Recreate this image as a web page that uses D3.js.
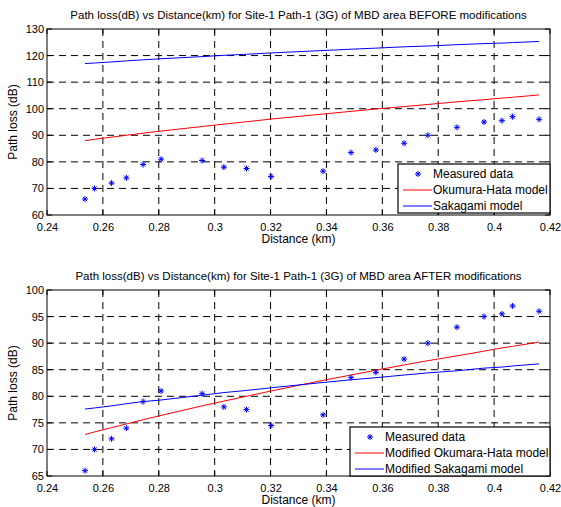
<!DOCTYPE html>
<html lang="en">
<head>
<meta charset="UTF-8">
<title>Path loss vs Distance</title>
<script src="https://d3js.org/d3.v7.min.js"></script>
<style>
    body { margin: 0; background: #fff; }
    svg { display: block; font-family: "Liberation Sans", Arial, Helvetica, sans-serif; }
    .grid { stroke: #000; stroke-width: 1px; stroke-dasharray: 7,5; }
    .tick-label { font-size: 11px; fill: #000; }
    .title { font-size: 11.5px; fill: #000; }
    .axis-label { font-size: 12px; fill: #000; }
    .legend text { font-size: 12px; fill: #000; }
</style>
</head>
<body>
<svg width="561" height="507"></svg>
<script>
    // distances (km) of the measurement points
    const distance = [0.2536, 0.2570, 0.2631, 0.2684, 0.2744, 0.2808, 0.2955, 0.3033, 0.3114, 0.3202,
                      0.3388, 0.3488, 0.3577, 0.3678, 0.3763, 0.3867, 0.3964, 0.4028, 0.4066, 0.4161];
    const measured = [66, 70, 72, 74, 79, 81, 80.5, 78, 77.5, 74.5,
                      76.5, 83.5, 84.5, 87, 90, 93, 95, 95.5, 97, 96];
    // before modifications
    const hataBefore = [88.0, 88.5, 89.3, 90.0, 90.8, 91.6, 93.3, 94.2, 95.1, 96.1,
                        98.0, 99.0, 99.9, 100.8, 101.6, 102.6, 103.4, 104.0, 104.3, 105.2];
    const sakagamiBefore = [117.0, 117.2, 117.6, 118.0, 118.4, 118.8, 119.6, 120.1, 120.5, 121.0,
                            121.9, 122.4, 122.8, 123.3, 123.6, 124.1, 124.5, 124.7, 124.9, 125.3];
    // after modifications
    const hataAfter = [72.8, 73.3, 74.1, 74.8, 75.6, 76.4, 78.2, 79.1, 80.0, 81.0,
                       83.0, 84.0, 84.9, 85.9, 86.7, 87.6, 88.5, 89.1, 89.4, 90.2];
    const sakagamiAfter = [77.6, 77.8, 78.2, 78.6, 79.0, 79.3, 80.2, 80.7, 81.1, 81.6,
                           82.6, 83.1, 83.5, 84.0, 84.4, 84.8, 85.3, 85.5, 85.7, 86.1];

    const xTicks = [0.24, 0.26, 0.28, 0.30, 0.32, 0.34, 0.36, 0.38, 0.40, 0.42];
    const yTicksBefore = [60, 70, 80, 90, 100, 110, 120, 130];
    const yTicksAfter = [65, 70, 75, 80, 85, 90, 95, 100];

    const svg = d3.select("svg");
    const left = 47, right = 550;

    function drawPanel(cfg) {
        const g = svg.append("g");
        const x = d3.scaleLinear().domain([0.24, 0.42]).range([left, right]);
        const y = d3.scaleLinear().domain(cfg.yDomain).range([cfg.bottom, cfg.top]);

        // dashed grid (inner ticks only)
        g.selectAll(".vgrid").data(xTicks.slice(1, -1)).join("line")
            .attr("class", "grid")
            .attr("x1", d => x(d)).attr("x2", d => x(d))
            .attr("y1", cfg.top).attr("y2", cfg.bottom);
        g.selectAll(".hgrid").data(cfg.yTicks.slice(1, -1)).join("line")
            .attr("class", "grid")
            .attr("x1", left).attr("x2", right)
            .attr("y1", d => y(d)).attr("y2", d => y(d));

        // inward tick marks on all four sides
        const tl = 5;
        xTicks.forEach(d => {
            g.append("line").attr("x1", x(d)).attr("x2", x(d)).attr("y1", cfg.bottom).attr("y2", cfg.bottom - tl).attr("stroke", "#000");
            g.append("line").attr("x1", x(d)).attr("x2", x(d)).attr("y1", cfg.top).attr("y2", cfg.top + tl).attr("stroke", "#000");
        });
        cfg.yTicks.forEach(d => {
            g.append("line").attr("x1", left).attr("x2", left + tl).attr("y1", y(d)).attr("y2", y(d)).attr("stroke", "#000");
            g.append("line").attr("x1", right).attr("x2", right - tl).attr("y1", y(d)).attr("y2", y(d)).attr("stroke", "#000");
        });

        // tick labels via d3 axes
        const xAxis = g.append("g").attr("transform", `translate(0,${cfg.bottom})`)
            .call(d3.axisBottom(x).tickValues(xTicks).tickSize(0).tickPadding(8)
                .tickFormat(d => String(+d.toFixed(2))));
        const yAxis = g.append("g").attr("transform", `translate(${left},0)`)
            .call(d3.axisLeft(y).tickValues(cfg.yTicks).tickSize(0).tickPadding(3));
        [xAxis, yAxis].forEach(a => {
            a.select(".domain").remove();
            a.selectAll("text").attr("class", "tick-label").attr("font-size", null).attr("font-family", null);
            a.attr("font-size", null).attr("font-family", null);
        });

        // model lines
        const line = vals => d3.line().x((d, i) => x(distance[i])).y(d => y(d))(vals);
        g.append("path").attr("d", line(cfg.hata)).attr("fill", "none").attr("stroke", "#ff0000").attr("stroke-width", 1);
        g.append("path").attr("d", line(cfg.sakagami)).attr("fill", "none").attr("stroke", "#0000ff").attr("stroke-width", 1);

        // measured points
        g.selectAll(".pt").data(measured).join("path")
            .attr("d", (d, i) => star(x(distance[i]), y(d), 3))
            .attr("stroke", "#0000ff").attr("stroke-width", 1).attr("fill", "none");

        // box
        g.append("rect").attr("x", left).attr("y", cfg.top)
            .attr("width", right - left).attr("height", cfg.bottom - cfg.top)
            .attr("fill", "none").attr("stroke", "#000").attr("stroke-width", 1);

        // texts
        g.append("text").attr("class", "title")
            .attr("x", (left + right) / 2).attr("y", cfg.top - 10)
            .attr("text-anchor", "middle").text(cfg.title);
        g.append("text").attr("class", "axis-label")
            .attr("x", (left + right) / 2).attr("y", cfg.bottom + 28)
            .attr("text-anchor", "middle").text("Distance (km)");
        g.append("text").attr("class", "axis-label")
            .attr("transform", `translate(17,${(cfg.top + cfg.bottom) / 2}) rotate(-90)`)
            .attr("text-anchor", "middle").text("Path loss (dB)");

        // legend
        const lg = g.append("g").attr("class", "legend").attr("transform", `translate(${cfg.legend.x},${cfg.legend.y})`);
        lg.append("rect").attr("width", right - cfg.legend.x).attr("height", cfg.legend.h)
            .attr("fill", "#fff").attr("stroke", "#000").attr("stroke-width", 1.2);
        const rows = [10, 26, 42];
        lg.append("path").attr("d", star(20, rows[0], 3)).attr("stroke", "#0000ff").attr("stroke-width", 1);
        lg.append("line").attr("x1", 5).attr("x2", 34).attr("y1", rows[1]).attr("y2", rows[1]).attr("stroke", "#ff0000");
        lg.append("line").attr("x1", 5).attr("x2", 34).attr("y1", rows[2]).attr("y2", rows[2]).attr("stroke", "#0000ff");
        cfg.legend.labels.forEach((t, i) => {
            lg.append("text").attr("x", 35).attr("y", rows[i]).attr("dy", "0.35em").text(t);
        });
    }

    // MATLAB-style '*' marker
    function star(cx, cy, r) {
        const k = r * 0.7;
        return `M${cx - r},${cy}L${cx + r},${cy}M${cx},${cy - r}L${cx},${cy + r}` +
               `M${cx - k},${cy - k}L${cx + k},${cy + k}M${cx - k},${cy + k}L${cx + k},${cy - k}`;
    }

    drawPanel({
        top: 29, bottom: 215, yDomain: [60, 130], yTicks: yTicksBefore,
        hata: hataBefore, sakagami: sakagamiBefore,
        title: "Path loss(dB) vs Distance(km) for Site-1 Path-1 (3G) of MBD area BEFORE modifications",
        legend: {x: 398, y: 164, h: 49, labels: ["Measured data", "Okumura-Hata model", "Sakagami model"]}
    });
    drawPanel({
        top: 290, bottom: 476, yDomain: [65, 100], yTicks: yTicksAfter,
        hata: hataAfter, sakagami: sakagamiAfter,
        title: "Path loss(dB) vs Distance(km) for Site-1 Path-1 (3G) of MBD area AFTER modifications",
        legend: {x: 350, y: 427, h: 49, labels: ["Measured data", "Modified Okumara-Hata model", "Modified Sakagami model"]}
    });
</script>
</body>
</html>
